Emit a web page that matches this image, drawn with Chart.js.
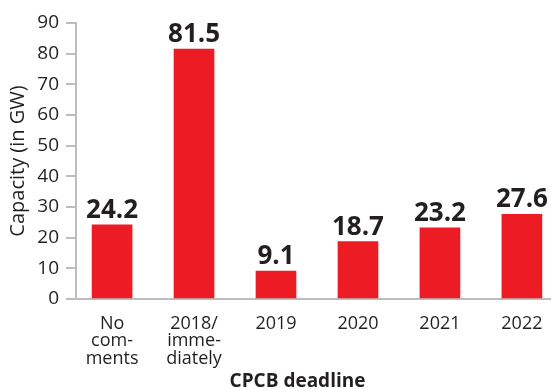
<!DOCTYPE html>
<html>
<head>
<meta charset="utf-8">
<script src="https://cdn.jsdelivr.net/npm/chart.js@4/dist/chart.umd.min.js"></script>
<style>
  html, body { margin: 0; padding: 0; background: #fff; }
  #chart { display: block; }
</style>
</head>
<body>
<canvas id="chart" width="551" height="389"></canvas>
<script>
// Capacity by CPCB deadline
const categories = [["No", "com-", "ments"], ["2018/", "imme-", "diately"], "2019", "2020", "2021", "2022"];
const capacity = [24.2, 81.5, 9.1, 18.7, 23.2, 27.6];
const yTicks = [0, 10, 20, 30, 40, 50, 60, 70, 80, 90];

const RED = "#ed1c24";
const INK = "#231f20";
const AXIS = "#bdbdbd";
const FONT = "'Open Sans', 'DejaVu Sans', sans-serif";

/** Value labels above each bar */
const barValues = {
  id: "barValues",
  afterDatasetsDraw(chart) {
    const ctx = chart.ctx;
    const meta = chart.getDatasetMeta(0);
    ctx.save();
    ctx.font = "bold 26px " + FONT;
    ctx.fillStyle = INK;
    ctx.textAlign = "center";
    ctx.textBaseline = "alphabetic";
    meta.data.forEach((bar, i) => {
      ctx.fillText(capacity[i].toFixed(1), bar.x, bar.y - 7);
    });
    ctx.restore();
  }
};

/** X axis title, drawn under the tick labels */
const xAxisTitle = {
  id: "xAxisTitle",
  afterDraw(chart) {
    const ctx = chart.ctx;
    const area = chart.chartArea;
    ctx.save();
    ctx.font = "bold 19px " + FONT;
    ctx.fillStyle = INK;
    ctx.textAlign = "center";
    ctx.textBaseline = "alphabetic";
    ctx.fillText("CPCB deadline", (area.left + area.right) / 2 - 16, chart.height - 2);
    ctx.restore();
  }
};

new Chart(document.getElementById("chart"), {
  type: "bar",
  data: {
    datasets: [{
      data: capacity.map((v, i) => ({ x: i, y: v })),
      backgroundColor: RED,
      borderWidth: 0,
      barThickness: 40
    }]
  },
  options: {
    responsive: false,
    animation: false,
    layout: { padding: { top: 23, right: 0, left: 0, bottom: 0 } },
    plugins: {
      legend: { display: false },
      tooltip: { enabled: false }
    },
    scales: {
      x: {
        type: "linear",
        offset: false,
        min: -0.44,
        max: 5.355,
        afterBuildTicks: s => { s.ticks = categories.map((_, i) => ({ value: i })); },
        afterFit: s => { s.height = 90; },
        grid: { display: false, offset: false },
        border: { color: AXIS, width: 2 },
        ticks: {
          autoSkip: false,
          maxRotation: 0,
          padding: 8,
          color: INK,
          font: { family: FONT, size: 18, lineHeight: 0.97 },
          callback: v => categories[v]
        }
      },
      y: {
        min: 0,
        max: 90,
        afterBuildTicks: s => { s.ticks = yTicks.map(v => ({ value: v })); },
        afterFit: s => { s.width = 76; },
        grid: { drawOnChartArea: false, drawTicks: true, tickLength: 10, color: AXIS, lineWidth: 2 },
        border: { color: AXIS, width: 2 },
        ticks: {
          padding: 7,
          color: INK,
          font: { family: FONT, size: 19 }
        },
        title: {
          display: true,
          text: "Capacity (in GW)",
          color: INK,
          font: { family: FONT, size: 20 },
          padding: { top: 6, bottom: 0 }
        }
      }
    }
  },
  plugins: [barValues, xAxisTitle]
});
</script>
</body>
</html>
